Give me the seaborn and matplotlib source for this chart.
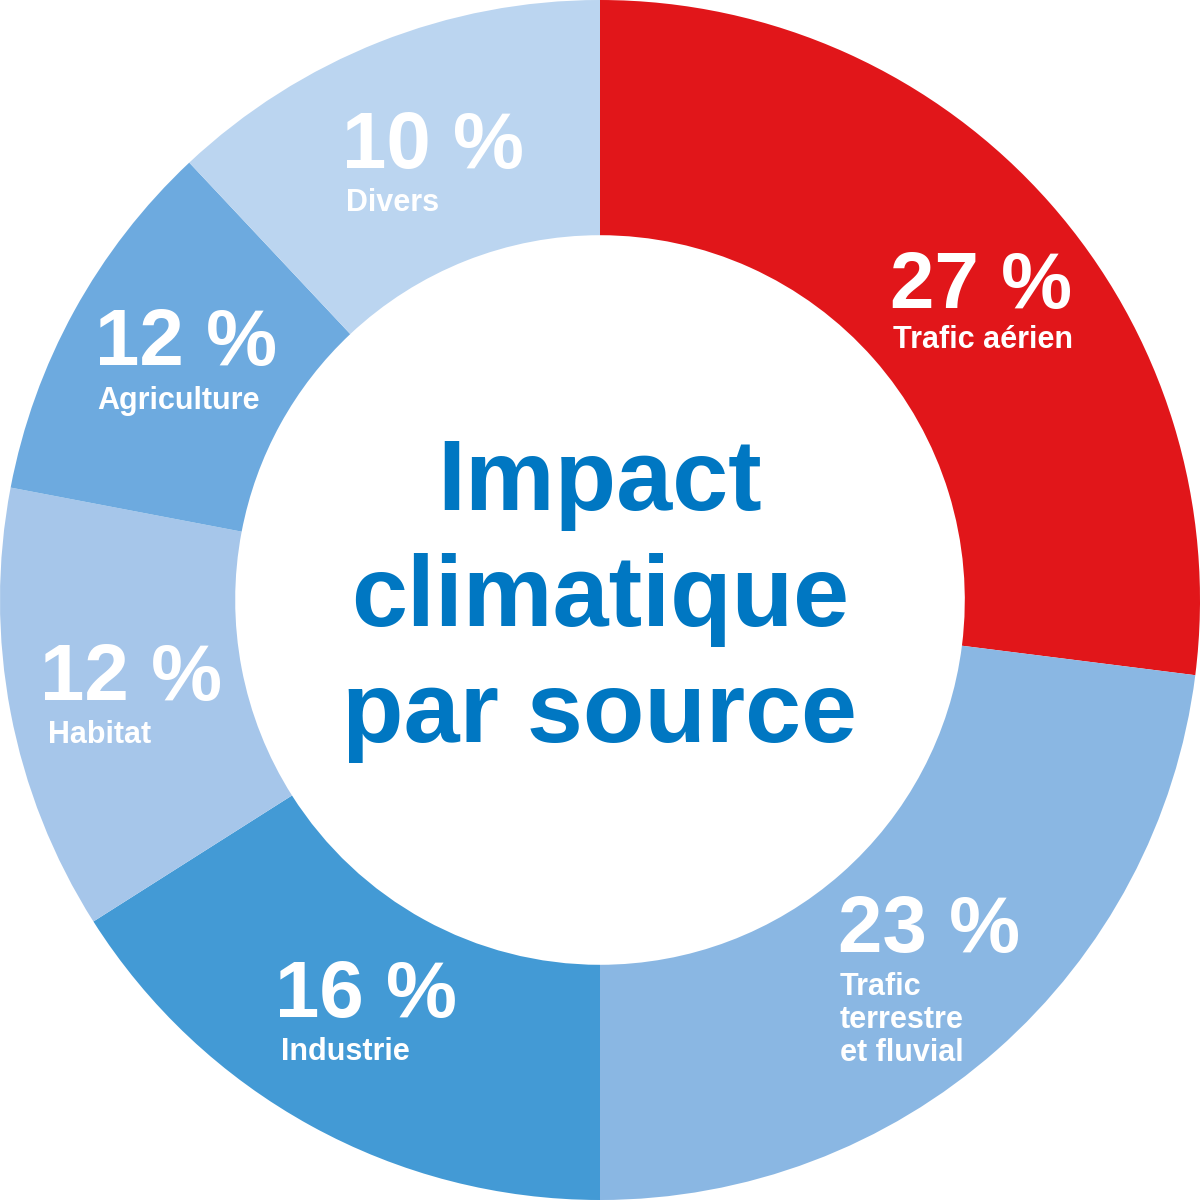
import matplotlib
matplotlib.use("Agg")
import matplotlib.pyplot as plt
import seaborn as sns

categories = ["Trafic aérien", "Trafic\nterrestre\net fluvial", "Industrie", "Habitat", "Agriculture", "Divers"]
# percentages as printed on the chart
values = [27, 23, 16, 12, 12, 10]
# sector sizes as actually drawn in the reference (Agriculture / Divers sectors differ from their labels)
drawn_shares = [27, 23, 16, 12, 10, 12]
colors = ["#E1161A", "#8AB7E3", "#439AD5", "#A6C6EA", "#6DAADF", "#BBD5F0"]
title_lines = "Impact\nclimatique\npar source"

sns.set_theme(style="white")
plt.rcParams['font.family'] = ['Liberation Sans', 'DejaVu Sans']

fig = plt.figure(figsize=(12, 12), dpi=100)
ax = fig.add_axes([0, 0, 1, 1])
ax.pie(drawn_shares, colors=colors, startangle=90, counterclock=False, radius=1.0,
       wedgeprops=dict(width=0.392, linewidth=0))
ax.set_xlim(-1, 1)
ax.set_ylim(-1, 1)
ax.set_aspect('equal')
ax.axis('off')

# label layout (pixel positions of left edge / baselines)
pos = [(890, 308, 893, 348), (838, 952, 840, 995), (275, 1017, 281, 1060),
       (40, 700, 48, 743), (95, 365, 97, 409), (342, 168, 346, 211)]
for v, c, (px, py, lx, ly) in zip(values, categories, pos):
    fig.text(px / 1200, 1 - py / 1200, f"{v} %", color="white", fontsize=57.5,
             fontweight="bold", ha="left", va="baseline")
    lines = c.split("\n")
    for i, line in enumerate(lines):
        fig.text(lx / 1200, 1 - (ly + i * 33) / 1200, line, color="white",
                 fontsize=22, fontweight="bold", ha="left", va="baseline")

for i, line in enumerate(title_lines.split("\n")):
    fig.text(0.5, 1 - (510 + i * 116) / 1200, line, color="#0077C2", fontsize=72.5,
             fontweight="bold", ha="center", va="baseline")

fig.savefig("out.png", dpi=100, facecolor="white")
